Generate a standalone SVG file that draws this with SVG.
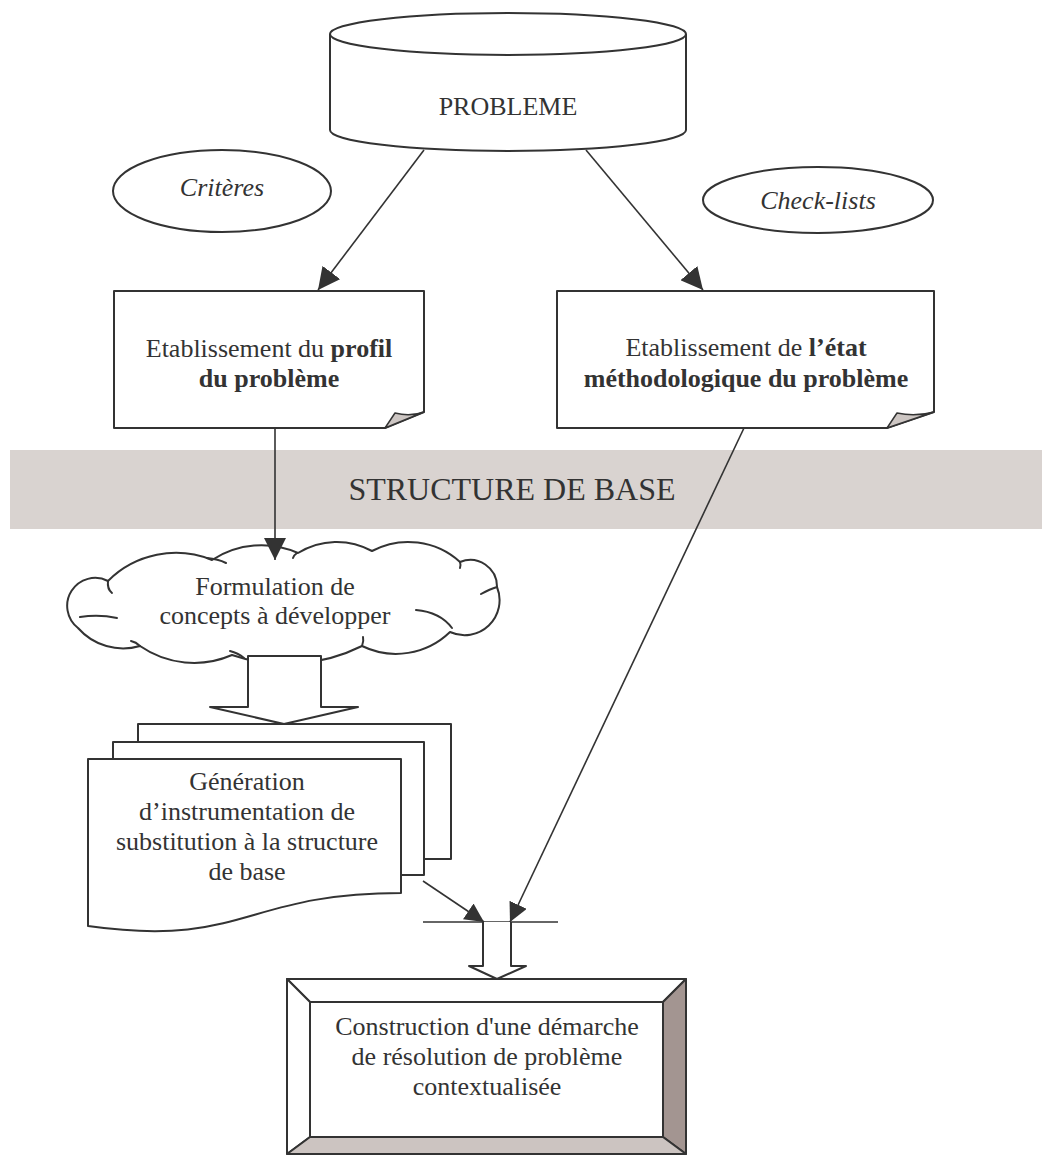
<svg xmlns="http://www.w3.org/2000/svg" width="1042" height="1156" viewBox="0 0 1042 1156">
  <style>
    .shape { fill: #ffffff; stroke: #333333; stroke-width: 2; stroke-linejoin: round; }
    .fold { fill: #cdc6c3; stroke: #333333; stroke-width: 1.5; stroke-linejoin: round; }
    .crease { fill: none; stroke: #333333; stroke-width: 2; stroke-linecap: round; }
    .conn { fill: none; stroke: #333333; stroke-width: 1.6; }
    .label { font-family: "Liberation Serif", "Times New Roman", serif; font-size: 26px; fill: #333333; text-anchor: middle; }
    .it { font-style: italic; }
    .b { font-weight: bold; }
    .band-label { font-family: "Liberation Serif", "Times New Roman", serif; font-size: 32px; fill: #333333; text-anchor: middle; }
  </style>
  <defs>
    <marker id="arrow" viewBox="0 0 20 20" refX="20" refY="10" markerWidth="22" markerHeight="22" markerUnits="userSpaceOnUse" orient="auto">
      <path d="M0,0 L20,10 L0,20 Z" fill="#333333"/>
    </marker>
    <marker id="arrow-small" viewBox="0 0 20 20" refX="20" refY="10" markerWidth="19" markerHeight="19" markerUnits="userSpaceOnUse" orient="auto">
      <path d="M0,0 L20,10 L0,20 Z" fill="#333333"/>
    </marker>
  </defs>

  <!-- shaded band behind the base structure -->
  <g id="band">
    <rect x="10" y="450" width="1032" height="79" fill="#d9d3d0"/>
    <text class="band-label" x="512" y="500">STRUCTURE DE BASE</text>
  </g>

  <!-- problem cylinder -->
  <g id="probleme">
    <path class="shape" d="M330,34 V130 A178,21 0 0 0 686,130 V34"/>
    <ellipse class="shape" cx="508" cy="34" rx="178" ry="21"/>
    <text class="label" x="508" y="115">PROBLEME</text>
  </g>

  <!-- inputs -->
  <g id="criteres">
    <ellipse class="shape" cx="222" cy="191" rx="109" ry="41"/>
    <text class="label it" x="222" y="196">Critères</text>
  </g>
  <g id="checklists">
    <ellipse class="shape" cx="818" cy="200" rx="115" ry="33"/>
    <text class="label it" x="818" y="209">Check-lists</text>
  </g>

  <!-- profile of the problem -->
  <g id="profil">
    <path class="shape" d="M114,291 H424 V412 L385,428 H114 Z"/>
    <path class="fold" d="M385,428 L395,413 Q410,417 424,412 Z"/>
    <text class="label" x="269" y="357">Etablissement du <tspan class="b">profil</tspan></text>
    <text class="label b" x="269" y="387">du problème</text>
  </g>

  <!-- methodological state -->
  <g id="etat">
    <path class="shape" d="M557,291 H934 V412 L887,428 H557 Z"/>
    <path class="fold" d="M887,428 L897,413 Q915,417 934,412 Z"/>
    <text class="label" x="746" y="356">Etablissement de <tspan class="b">l’état</tspan></text>
    <text class="label b" x="746" y="387">méthodologique du problème</text>
  </g>

  <!-- concepts cloud -->
  <g id="concepts">
    <path class="shape" d="M78,628 A28,28 0 0 1 108,581 A96,96 0 0 1 212,560 A90,90 0 0 1 298,553 A73,73 0 0 1 372,551 A77,77 0 0 1 460,562 A26.7,26.7 0 0 1 497,587 A35,35 0 0 1 450,632 A77.7,77.7 0 0 1 362,646 A170,170 0 0 1 232,655 A95,95 0 0 1 140,646 A60,60 0 0 1 78,628 Z"/>
    <path class="crease" d="M108,581 Q107,589 112,593"/>
    <path class="crease" d="M80,617 Q99,614 117,618"/>
    <path class="crease" d="M207,558 Q218,559 226,563"/>
    <path class="crease" d="M297,553 Q294,555 293,558"/>
    <path class="crease" d="M460,562 Q461,565 460,568"/>
    <path class="crease" d="M497,587 Q490,589 481,594"/>
    <path class="crease" d="M416,610 Q440,612 452,628"/>
    <path class="crease" d="M362,646 Q364,641 363,637"/>
    <path class="crease" d="M230,651 Q238,653 244,658"/>
    <path class="crease" d="M140,646 Q136,642 131,641"/>
    <text class="label" x="275" y="595">Formulation de</text>
    <text class="label" x="275" y="624">concepts à développer</text>
  </g>

  <!-- stacked documents -->
  <g id="generation">
    <rect class="shape" x="138" y="724" width="313" height="135"/>
    <rect class="shape" x="113" y="742" width="311" height="133"/>
    <path class="shape" d="M88,759 H401 V893 C244,893 244,948 88,926 Z"/>
    <text class="label" x="247" y="790">Génération</text>
    <text class="label" x="247" y="820">d’instrumentation de</text>
    <text class="label" x="247" y="850">substitution à la structure</text>
    <text class="label" x="247" y="880">de base</text>
  </g>

  <!-- resulting approach -->
  <g id="construction">
    <polygon points="287,979 686,979 663,1002 310,1002" fill="#ffffff" stroke="#333333" stroke-width="2" stroke-linejoin="round"/>
    <polygon points="287,979 310,1002 310,1137 287,1154" fill="#ffffff" stroke="#333333" stroke-width="2" stroke-linejoin="round"/>
    <polygon points="686,979 686,1154 663,1137 663,1002" fill="#a39591" stroke="#333333" stroke-width="2" stroke-linejoin="round"/>
    <polygon points="287,1154 686,1154 663,1137 310,1137" fill="#ccc4c1" stroke="#333333" stroke-width="2" stroke-linejoin="round"/>
    <rect x="310" y="1002" width="353" height="135" fill="#ffffff" stroke="#333333" stroke-width="2"/>
    <text class="label" x="487" y="1035">Construction d'une démarche</text>
    <text class="label" x="487" y="1065">de résolution de problème</text>
    <text class="label" x="487" y="1095">contextualisée</text>
  </g>

  <!-- connectors -->
  <g id="connectors">
    <line class="conn" x1="424" y1="150" x2="318" y2="290" marker-end="url(#arrow)"/>
    <line class="conn" x1="586" y1="150" x2="703" y2="290" marker-end="url(#arrow)"/>
    <line class="conn" x1="275" y1="428" x2="275" y2="560" marker-end="url(#arrow)"/>
    <line class="conn" x1="744" y1="428" x2="510" y2="922" marker-end="url(#arrow-small)"/>
    <line class="conn" x1="423" y1="881" x2="484" y2="922" marker-end="url(#arrow-small)"/>
    <line class="conn" x1="423" y1="922" x2="558" y2="922"/>
    <path class="shape" d="M248,656 H321 V707 H358 L284,724 L210,707 H248 Z"/>
    <path class="shape" d="M483,922 V966 H469 L497,979 L526,966 H511 V922"/>
  </g>
</svg>
